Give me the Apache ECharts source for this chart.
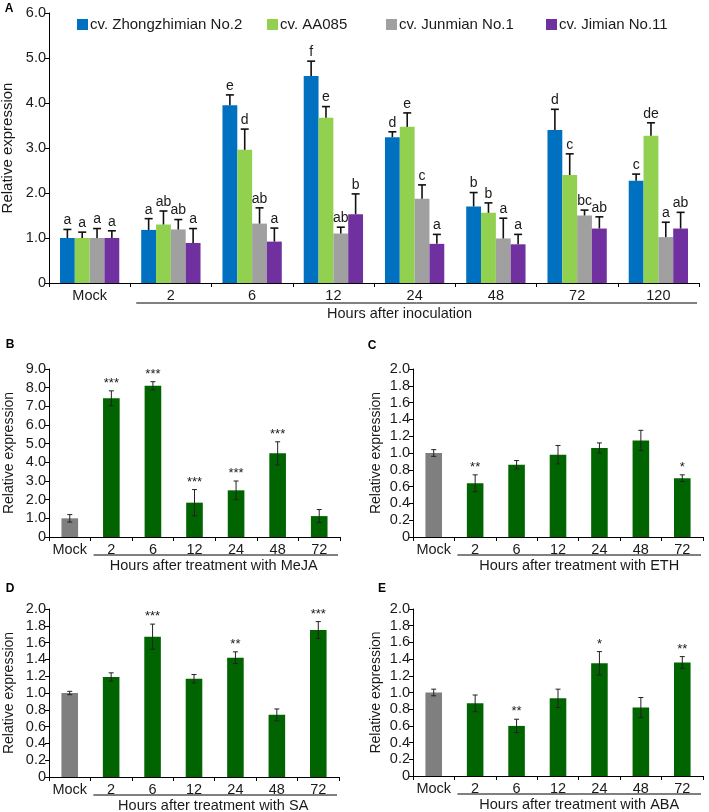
<!DOCTYPE html>
<html><head><meta charset="utf-8">
<script src="https://cdn.jsdelivr.net/npm/echarts@6.0.0/dist/echarts.min.js"></script>
<style>html,body{margin:0;padding:0;background:#fff}#c{width:709px;height:812px}</style>
</head><body><div id="c"></div>
<script>
// ---------- DATA ----------
const catsA = ['Mock','2','6','12','24','48','72','120'];
const cultivars = ['cv. Zhongzhimian No.2','cv. AA085','cv. Junmian No.1','cv. Jimian No.11'];
const zhongVal = [1.00,1.18,3.95,4.60,3.24,1.70,3.40,2.27];
const zhongErr = [0.19,0.25,0.23,0.33,0.12,0.31,0.46,0.15];
const zhongLet = ['a','a','e','f','d','b','d','c'];
const aa085Val = [1.00,1.30,2.96,3.67,3.47,1.56,2.40,3.27];
const aa085Err = [0.13,0.30,0.46,0.25,0.31,0.22,0.47,0.29];
const aa085Let = ['a','ab','d','e','e','b','c','de'];
const junVal = [1.00,1.19,1.32,1.10,1.87,0.99,1.50,1.02];
const junErr = [0.21,0.22,0.35,0.14,0.31,0.45,0.12,0.33];
const junLet = ['a','ab','ab','ab','c','a','bc','a'];
const jiVal = [1.00,0.89,0.92,1.53,0.87,0.86,1.21,1.21];
const jiErr = [0.16,0.32,0.30,0.45,0.21,0.22,0.26,0.36];
const jiLet = ['a','a','a','b','a','a','ab','ab'];

const catsT = ['Mock','2','6','12','24','48','72'];
const mejaVal = [1.00,7.43,8.10,1.84,2.50,4.48,1.12];
const mejaErr = [0.20,0.40,0.22,0.70,0.50,0.62,0.35];
const mejaSig = ['','***','***','***','***','***',''];
const ethVal = [1.00,0.64,0.86,0.98,1.06,1.15,0.70];
const ethErr = [0.04,0.10,0.05,0.11,0.06,0.12,0.04];
const ethSig = ['','**','','','','','*'];
const saVal = [1.00,1.19,1.67,1.17,1.42,0.74,1.75];
const saErr = [0.02,0.05,0.15,0.05,0.07,0.07,0.10];
const saSig = ['','','***','','**','','***'];
const abaVal = [1.00,0.87,0.60,0.93,1.35,0.82,1.36];
const abaErr = [0.04,0.10,0.08,0.11,0.14,0.12,0.07];
const abaSig = ['','','**','','*','','**'];

const xTitles = ['Hours after inoculation','Hours after treatment with MeJA','Hours after treatment with ETH','Hours after treatment with SA','Hours after treatment with ABA'];
const panelLetters = ['A','B','C','D','E'];

// ---------- STYLE / LAYOUT ----------
const FONT = '"Liberation Sans", Arial, sans-serif';
const TXT = '#1a1a1a';
const colorsA = ['#0070C0','#92D050','#A0A0A0','#7030A0'];
const MOCK_COL = '#7f7f7f', TREAT_COL = '#006400';
const grids = [
  {left:49, top:13, width:650, height:270},
  {left:49, top:369, width:291, height:168},
  {left:413, top:369, width:290, height:168},
  {left:49, top:609, width:290, height:168},
  {left:413, top:609, width:290, height:167}
];
const yMax = [6, 9, 2, 2, 2];
const yInt = [1, 1, 0.2, 0.2, 0.2];
const yGap = [30, 33, 30, 33, 30];
const yNameSize = [15, 14, 14, 14, 14];
const titleShift = [-17, -2, 0, -2, 0];
const panelPos = [[9,9],[10,345],[372,346],[10,589],[382,589]];

const valsA = [zhongVal, aa085Val, junVal, jiVal];
const errsA = [zhongErr, aa085Err, junErr, jiErr];
const letsA = [zhongLet, aa085Let, junLet, jiLet];
const valsT = [mejaVal, ethVal, saVal, abaVal];
const errsT = [mejaErr, ethErr, saErr, abaErr];
const sigsT = [mejaSig, ethSig, saSig, abaSig];

const CAT_GAP_A = 0.27;

function xAxisCfg(gi, cats){
  return {type:'category', gridIndex:gi, data:cats, boundaryGap:true,
    axisLine:{show:true, lineStyle:{color:'#000', width:1}},
    axisTick:{show:true, length:4, inside:false, alignWithLabel:false, interval:0, lineStyle:{color:'#000'}},
    axisLabel:{color:TXT, fontSize:14.5, fontFamily:FONT, margin:5, interval:0},
    splitLine:{show:false}};
}
function yAxisCfg(gi){
  return {type:'value', gridIndex:gi, min:0, max:yMax[gi], interval:yInt[gi],
    name:'Relative expression', nameLocation:'middle', nameGap:yGap[gi],
    nameTextStyle:{color:TXT, fontSize:yNameSize[gi], fontFamily:FONT},
    axisLine:{show:true, lineStyle:{color:'#000', width:1}},
    axisTick:{show:true, length:4, inside:false, lineStyle:{color:'#000'}},
    axisLabel:{color:TXT, fontSize:14.5, fontFamily:FONT, margin:3,
      formatter: v => (Math.abs(v) < 1e-9 ? '0' : v.toFixed(1))},
    splitLine:{show:false}};
}

const series = [];
// Panel A bars + error bars + letters
valsA.forEach((vals, k) => {
  series.push({type:'bar', name:cultivars[k], xAxisIndex:0, yAxisIndex:0, data:vals,
    barGap:'0%', barCategoryGap:(CAT_GAP_A*100)+'%',
    itemStyle:{color:colorsA[k]}, emphasis:{disabled:true}, silent:true});
});
valsA.forEach((vals, k) => {
  series.push({type:'custom', xAxisIndex:0, yAxisIndex:0, silent:true, z:5,
    data: vals.map((v,i) => [i, v, errsA[k][i]]),
    renderItem: function(params, api){
      const i = api.value(0), v = api.value(1), e = api.value(2);
      const band = api.size([1,0])[0];
      const barW = band*(1-CAT_GAP_A)/4;
      const off = (k-1.5)*barW;
      const p0 = api.coord([i, v]);
      const p1 = api.coord([i, v+e]);
      const cx = p0[0] + off;
      const cw = 4;
      return {type:'group', children:[
        {type:'line', shape:{x1:cx, y1:p0[1], x2:cx, y2:p1[1]}, style:{stroke:'#111', lineWidth:1.6}},
        {type:'line', shape:{x1:cx-cw, y1:p1[1], x2:cx+cw, y2:p1[1]}, style:{stroke:'#111', lineWidth:1.6}},
        {type:'text', style:{text:letsA[k][params.dataIndex], x:cx, y:p1[1]-2, align:'center', verticalAlign:'bottom',
          fill:TXT, font:'14px '+FONT}}
      ]};
    }});
});
// Panels B-E
valsT.forEach((vals, j) => {
  const gi = j+1;
  series.push({type:'bar', xAxisIndex:gi, yAxisIndex:gi, barWidth:'40%',
    data: vals.map((v,i) => ({value:v, itemStyle:{color: i===0 ? MOCK_COL : TREAT_COL}})),
    emphasis:{disabled:true}, silent:true});
  series.push({type:'custom', xAxisIndex:gi, yAxisIndex:gi, silent:true, z:5,
    data: vals.map((v,i) => [i, v, errsT[j][i]]),
    renderItem: function(params, api){
      const i = api.value(0), v = api.value(1), e = api.value(2);
      const pt = api.coord([i, v+e]);
      const pb = api.coord([i, v-e]);
      const cx = pt[0], cw = 2.5;
      return {type:'group', children:[
        {type:'line', shape:{x1:cx, y1:pt[1], x2:cx, y2:pb[1]}, style:{stroke:'#222', lineWidth:1}},
        {type:'line', shape:{x1:cx-cw, y1:pt[1], x2:cx+cw, y2:pt[1]}, style:{stroke:'#222', lineWidth:1}},
        {type:'line', shape:{x1:cx-cw, y1:pb[1], x2:cx+cw, y2:pb[1]}, style:{stroke:'#222', lineWidth:1}},
        {type:'text', style:{text:sigsT[j][params.dataIndex], x:cx, y:pt[1]-1, align:'center', verticalAlign:'bottom',
          fill:TXT, font:'13px '+FONT}}
      ]};
    }});
});

// Graphic: panel letters, underlines, x titles
const graphic = [];
grids.forEach((g, gi) => {
  const nCat = gi === 0 ? catsA.length : catsT.length;
  const band = g.width / nCat;
  const x1 = g.left + band + (gi === 0 ? 6 : 3);
  const x2 = g.left + g.width - 2;
  const yLine = g.top + g.height + (gi === 0 ? 20 : 18);
  graphic.push({type:'line', shape:{x1, y1:yLine, x2, y2:yLine}, style:{stroke:'#000', lineWidth:1}, silent:true});
  graphic.push({type:'text', x:(x1+x2)/2 + titleShift[gi], y:yLine+3, style:{text:xTitles[gi], align:'center', verticalAlign:'top',
    fill:TXT, font:'14.5px '+FONT}, silent:true});
  graphic.push({type:'text', x:panelPos[gi][0], y:panelPos[gi][1], style:{text:panelLetters[gi], align:'center', verticalAlign:'middle',
    fill:'#000', font:'bold 12px '+FONT}, silent:true});
});

const legendLefts = [77, 267, 386, 546];
const legends = cultivars.map((name, k) => ({
  left: legendLefts[k], top: 17, data:[name], icon:'rect', itemWidth:11, itemHeight:11, itemGap:0,
  padding:0, selectedMode:false, textStyle:{color:TXT, fontSize:15, fontFamily:FONT, padding:[0,0,0,-3]}
}));

const option = {
  animation:false,
  backgroundColor:'#fff',
  textStyle:{fontFamily:FONT},
  grid: grids.map(g => Object.assign({containLabel:false, outerBoundsMode:'none'}, g)),
  xAxis: [xAxisCfg(0, catsA)].concat([1,2,3,4].map(gi => xAxisCfg(gi, catsT))),
  yAxis: [0,1,2,3,4].map(gi => yAxisCfg(gi)),
  legend: legends,
  series,
  graphic
};
const chart = echarts.init(document.getElementById('c'));
chart.setOption(option);
</script>
</body></html>
